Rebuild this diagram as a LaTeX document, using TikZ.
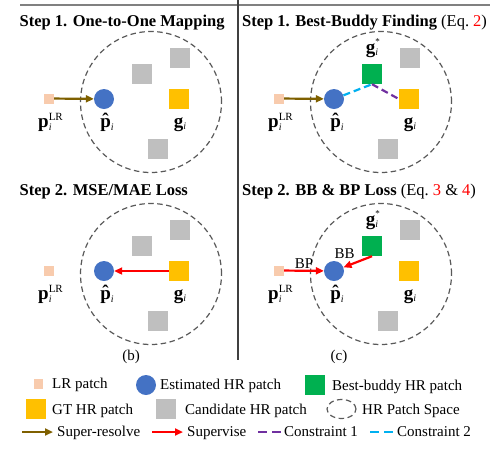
\documentclass[tikz,border=0pt]{standalone}
\usepackage{fontspec}
\setmainfont{Liberation Serif}
\usepackage{xcolor}
\usetikzlibrary{arrows.meta, positioning, calc, shapes.geometric}

\definecolor{lrcol}{HTML}{F8CBAD}
\definecolor{estcol}{HTML}{4472C4}
\definecolor{budcol}{HTML}{00B050}
\definecolor{gtcol}{HTML}{FFC000}
\definecolor{candcol}{HTML}{BFBFBF}
\definecolor{srcol}{HTML}{7F6000}
\definecolor{conacol}{HTML}{7030A0}
\definecolor{conbcol}{HTML}{00B0F0}
\definecolor{spacecol}{HTML}{595959}

\newcommand{\subi}{\raisebox{-2.5pt}{\fontsize{10}{11}\selectfont\textit{i}}}
\newcommand{\plr}{\textbf{p}\rlap{\raisebox{7.5pt}{\fontsize{11}{12}\selectfont LR}}\subi}
\newcommand{\phat}{\textbf{\ooalign{p\cr\hidewidth\raisebox{1pt}{\symbol{"02C6}}\hidewidth\cr}}\subi}
\newcommand{\gti}{\textbf{g}\subi}
\newcommand{\gstar}{\textbf{g}\rlap{\raisebox{9pt}{\fontsize{9}{10}\selectfont *}}\subi}

\begin{document}
\begin{tikzpicture}[x=1pt, y=-1pt, font=\fontsize{15}{18}\selectfont,
  lrbox/.style={rectangle,fill=lrcol,minimum size=10pt,inner sep=0pt},
  est/.style={circle,fill=estcol,minimum size=20pt,inner sep=0pt},
  patch/.style={rectangle,minimum size=20pt,inner sep=0pt},
  hrspace/.style={draw=spacecol,line width=1.2pt,dash pattern=on 5.5pt off 3.5pt},
  sr/.style={-{Triangle[length=8pt,width=7pt]},draw=srcol,line width=2.2pt},
  sup/.style={-{Triangle[length=8pt,width=7pt]},draw=red,line width=2.2pt},
  cona/.style={draw=conacol,line width=2.2pt,dash pattern=on 7pt off 4pt},
  conb/.style={draw=conbcol,line width=2.2pt,dash pattern=on 7pt off 4pt},
  lbl/.style={font=\fontsize{19}{22}\selectfont,inner sep=0pt,anchor=base},
  title/.style={font=\fontsize{16.5}{20}\selectfont,inner sep=0pt,anchor=base west},
  txt/.style={inner sep=0pt,anchor=base west}]
\useasboundingbox (0,0) rectangle (490,451);

\draw[line width=1.2pt, black!50] (20,5) -- (490,5);
\draw[line width=1.2pt, black!75] (238,0) -- (238,360);

\node[title] (ta) at (19.5,26) {\textbf{Step 1. One-to-One Mapping}};
\node[title] (tb) at (242,26) {\textbf{Step 1. Best-Buddy Finding} (Eq.~\textcolor{red}{2})};
\node[title] (tc) at (19.5,195) {\textbf{Step 2. MSE/MAE Loss}};
\node[title] (td) at (242,195) {\textbf{Step 2. BB \& BP Loss} (Eq.~\textcolor{red}{3} \& \textcolor{red}{4})};

\foreach \n/\dx/\dy in {a/0/0, b/230/0, c/0/172, d/230/172} {
  \begin{scope}[shift={(\dx,\dy)}]
    \draw[hrspace] (151,102) circle[radius=70.5pt];
    \node[lrbox] (lr\n) at (49,98.5) {};
    \node[est] (est\n) at (104,99) {};
    \node[patch,fill=gtcol] (gt\n) at (179,99) {};
    \node[patch,fill=candcol] (ca\n) at (180,58) {};
    \node[patch,fill=candcol] (cb\n) at (158,149) {};
    \node[lbl,anchor=base west] (plr\n) at (38,127.5) {\plr};
    \node[lbl] (ph\n) at (107,127.5) {\phat};
    \node[lbl] (gl\n) at (180,127) {\gti};
  \end{scope}
}

\node[patch,fill=candcol] (cca) at (142,74) {};
\node[patch,fill=candcol] (ccc) at (142,246) {};
\node[patch,fill=budcol] (bbb) at (372,74) {};
\node[patch,fill=budcol] (bbd) at (372,246) {};
\node[lbl] (gsb) at (372,53) {\gstar};
\node[lbl] (gsd) at (372,225) {\gstar};

\draw[sr] (lra) -- (esta);
\draw[sr] (lrb) -- (estb);
\draw[conb] (estb) -- (bbb.south);
\draw[cona] (bbb.south) -- (gtb.west);
\draw[sup] (gtc) -- (estc);
\draw[sup] (lrd) -- node[above=1.5pt,inner sep=0pt] (bp) {BP} (estd);
\draw[sup] (bbd.south) -- node[anchor=south east,inner sep=2pt] (bb) {BB} (estd);

\node[anchor=base] (capb) at (131,360) {(b)};
\node[anchor=base] (capc) at (339,360) {(c)};

\node[lrbox,minimum size=9.5pt] (ka) at (38.5,384) {};
\node[txt] (la) at (52,388.5) {LR patch};
\node[est] (kb) at (146,385) {};
\node[txt] (lb) at (160,389.5) {Estimated HR patch};
\node[patch,fill=budcol] (kc) at (315,385) {};
\node[txt] (lc) at (332,390) {Best-buddy HR patch};
\node[patch,fill=gtcol] (kd) at (36,409) {};
\node[txt] (ld) at (52,414) {GT HR patch};
\node[patch,fill=candcol] (ke) at (166,409) {};
\node[txt] (le) at (185,414) {Candidate HR patch};
\node[hrspace,ellipse,minimum width=29pt,minimum height=19pt,inner sep=0pt] (kf) at (341.5,409) {};
\node[txt] (lf) at (362,414) {HR Patch Space};

\coordinate (sa) at (22,432);
\coordinate (sb) at (53,432);
\coordinate (ua) at (152,432);
\coordinate (ub) at (183,432);
\coordinate (va) at (258,432);
\coordinate (vb) at (283,432);
\coordinate (wa) at (370,432);
\coordinate (wb) at (393,432);
\draw[sr] (sa) -- (sb);
\node[txt] (lg) at (57,436) {Super-resolve};
\draw[sup] (ua) -- (ub);
\node[txt] (lh) at (187,436) {Supervise};
\draw[cona,dash pattern=on 9pt off 5pt] (va) -- (vb);
\node[txt] (li) at (284,436) {Constraint 1};
\draw[conb,dash pattern=on 9pt off 5pt] (wa) -- (wb);
\node[txt] (lj) at (397,436) {Constraint 2};
\end{tikzpicture}
\end{document}
